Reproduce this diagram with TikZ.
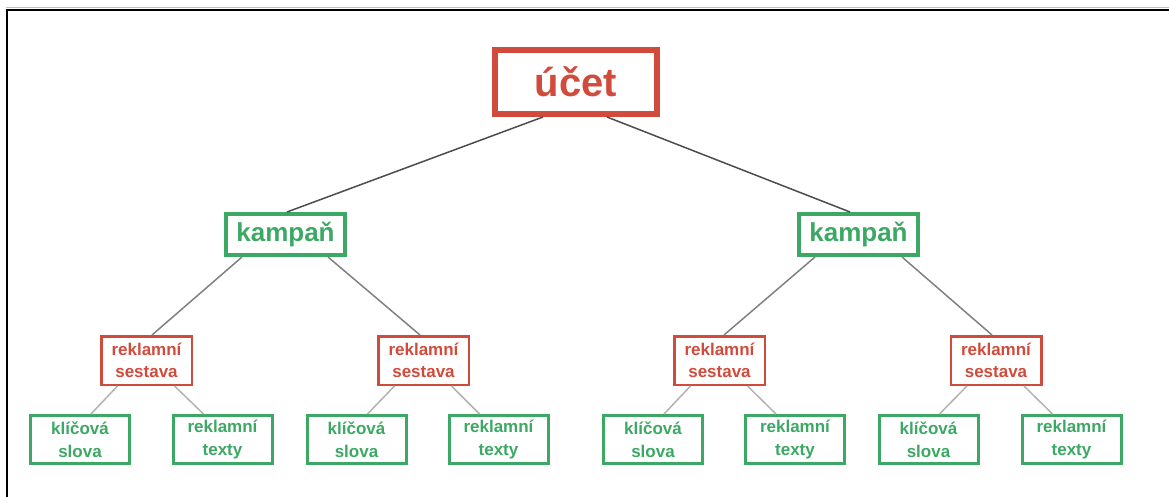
\documentclass[tikz,border=0pt]{standalone}
\usepackage{fontspec}
\setmainfont{Liberation Sans}
\definecolor{ucetred}{HTML}{D14B3C}
\definecolor{kampgreen}{HTML}{3BA864}
\tikzset{
  ucetbox/.style={draw=ucetred, line width=6, text=ucetred, inner sep=0,
    minimum width=162, minimum height=64, font=\fontsize{40}{44}\selectfont\bfseries},
  kampbox/.style={draw=kampgreen, line width=4, text=kampgreen, inner sep=0,
    minimum width=119, minimum height=41, font=\fontsize{26}{30}\selectfont\bfseries},
  sestbox/.style={draw=ucetred, line width=2.5, text=ucetred, inner sep=0, align=center,
    minimum width=90.5, minimum height=48.5, font=\fontsize{17}{22}\selectfont\bfseries},
  leafbox/.style={draw=kampgreen, line width=3, text=kampgreen, inner sep=0, align=center,
    minimum width=99, minimum height=48, font=\fontsize{17}{23}\selectfont\bfseries},
  toplink/.style={draw=black!70, line width=1.5},
  midlink/.style={draw=black!50, line width=1.5},
  leaflink/.style={draw=black!30, line width=1.5}
}
\begin{document}
\begin{tikzpicture}[x=1pt,y=-1pt]
\useasboundingbox (0,0) rectangle (1169,497);
% frame
\draw[black!25, line width=1] (6,7.5) -- (1169,7.5);
\draw[line width=2.5] (7,497) -- (7,10) -- (1169,10);

\node[ucetbox] (ucet) at (576,82) {účet};
\node[kampbox] (kampL) at (285.5,234.5) {kampaň};
\node[kampbox] (kampR) at (858.5,234.5) {kampaň};

\node[sestbox] (sestL1) at (146.5,360.5) {reklamní\\sestava};
\node[sestbox] (sestL2) at (423.5,360.5) {reklamní\\sestava};
\node[sestbox] (sestR1) at (719.5,360.5) {reklamní\\sestava};
\node[sestbox] (sestR2) at (996,360.5) {reklamní\\sestava};

\foreach \s/\kx/\tx in {L1/80/222.5, L2/356.5/498.5, R1/653/795, R2/928.5/1071.5}{
  \node[leafbox] (klic\s) at (\kx,439.5) {klíčová\\slova};
  \node[leafbox] (text\s) at (\tx,439.5) {reklamní\\texty};
  \draw[leaflink] ([xshift=-29]sest\s.south) -- ([xshift=11]klic\s.north);
  \draw[leaflink] ([xshift=28]sest\s.south) -- ([xshift=-19]text\s.north);
}

\draw[toplink] ([xshift=-33]ucet.south) -- ([xshift=1.5]kampL.north);
\draw[toplink] ([xshift=31]ucet.south) -- ([xshift=-8.5]kampR.north);

\draw[midlink] ([xshift=-43.5]kampL.south) -- ([xshift=5.5]sestL1.north);
\draw[midlink] ([xshift=42.5]kampL.south) -- ([xshift=-3.5]sestL2.north);
\draw[midlink] ([xshift=-43.5]kampR.south) -- ([xshift=4.5]sestR1.north);
\draw[midlink] ([xshift=43.5]kampR.south) -- ([xshift=-4]sestR2.north);
\end{tikzpicture}
\end{document}
